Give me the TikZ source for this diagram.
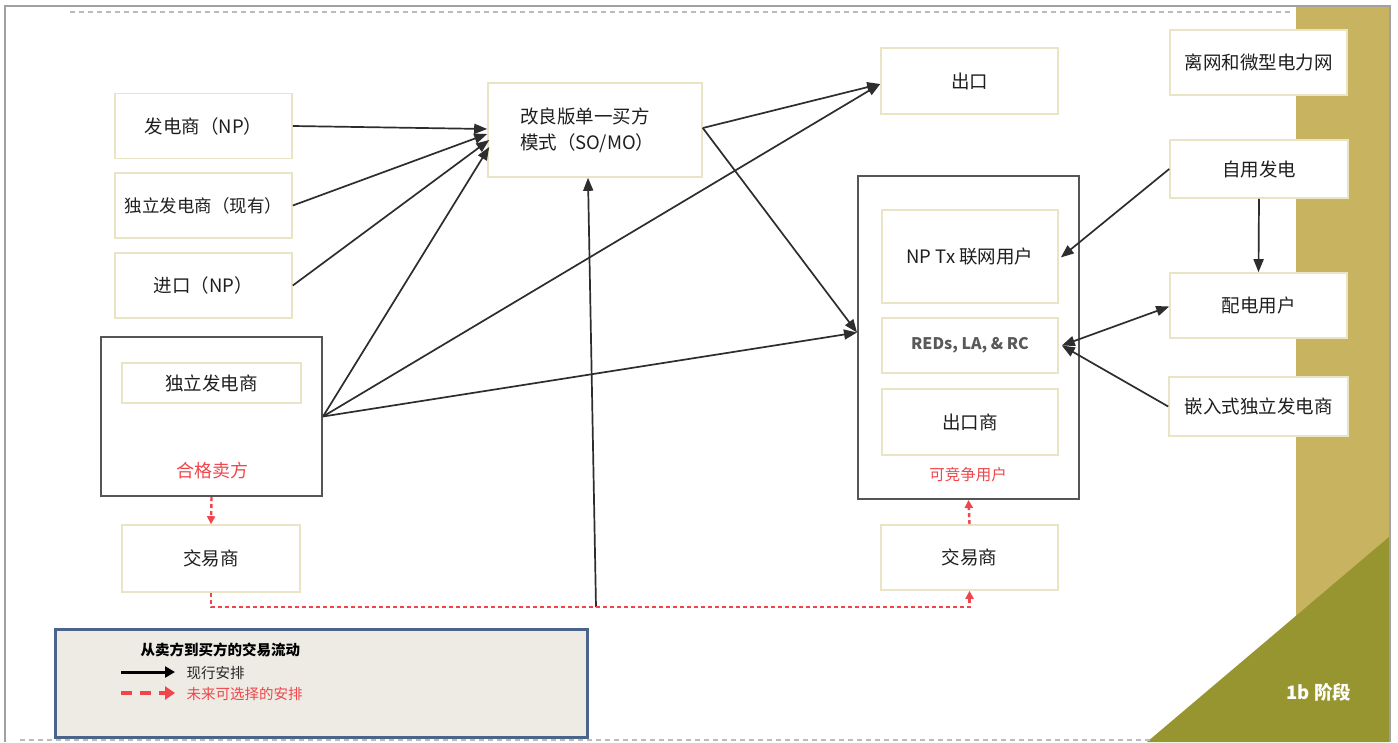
\documentclass[tikz,border=0pt]{standalone}
\usepackage{fontspec}
\setmainfont{Noto Sans CJK SC}
\usetikzlibrary{arrows.meta,calc}
\definecolor{boxline}{RGB}{232,228,196}
\definecolor{darkline}{RGB}{85,85,85}
\definecolor{conn}{RGB}{45,45,45}
\definecolor{redd}{RGB}{240,70,75}
\definecolor{gold}{RGB}{200,179,96}
\definecolor{olive}{RGB}{151,149,48}
\definecolor{legfill}{RGB}{237,235,228}
\definecolor{legline}{RGB}{75,100,140}
\definecolor{frame}{RGB}{160,160,160}
\tikzset{
  box/.style={draw=boxline, line width=1.6pt, fill=white, inner sep=2pt, font=\fontsize{18.5}{22}\selectfont, text=black!88},
  bigbox/.style={draw=darkline, line width=2pt, fill=none},
  arr/.style={draw=conn, line width=1.7pt, -{Triangle[length=13pt,width=10pt]}},
  rarr/.style={draw=redd, line width=2.4pt, dash pattern=on 4pt off 3pt, -{Triangle[length=8pt,width=8pt]}},
  redlbl/.style={text=redd, font=\fontsize{18}{21}\selectfont}
}
\begin{document}
\begin{tikzpicture}[x=1pt,y=-1pt]
\useasboundingbox (0,0) rectangle (1398,742);
\fill[white] (0,0) rectangle (1398,742);
% frame and decorations
\fill[gold] (1296,6) rectangle (1389,742);
\fill[olive] (1147,742) -- (1389,537) -- (1389,742) -- cycle;
\draw[frame, line width=1.4pt] (5,742) -- (5,6) -- (1390,6) -- (1390,742);
\draw[frame!70, line width=1.5pt, dash pattern=on 5pt off 4pt] (70,12) -- (1292,12);
\draw[frame!70, line width=1.5pt, dash pattern=on 5pt off 4pt] (20,740) -- (1150,740);
\node[text=white, font=\fontsize{18.5}{22}\selectfont\bfseries] (stage) at (1319,692) {1b 阶段};

% left column
\node[box, minimum width=177pt, minimum height=65pt] (np) at (203.5,126) {发电商（NP）};
\node[box, minimum width=177pt, minimum height=65pt, font=\fontsize{17.5}{21}\selectfont] (ippx) at (203.5,205.5) {独立发电商（现有）};
\node[box, minimum width=177pt, minimum height=65pt] (imp) at (203.5,285.5) {进口（NP）};
\node[bigbox, minimum width=221pt, minimum height=159pt] (ipp) at (211.5,416.5) {};
\node[box, minimum width=179pt, minimum height=40pt] (ippin) at (211.5,383) {独立发电商};
\node[redlbl] (qual) at (212,471) {合格卖方};
\node[box, minimum width=178pt, minimum height=67pt] (trL) at (211,558.5) {交易商};

% middle
\node[box, minimum width=214pt, minimum height=94pt, text width=150pt, align=left, font=\fontsize{18.5}{26}\selectfont] (somo) at (595,130) {改良版单一买方\\模式（SO/MO）};
\node[box, minimum width=177pt, minimum height=66pt] (exp) at (969.5,81) {出口};

% contestable customers
\node[bigbox, minimum width=221pt, minimum height=323pt] (cont) at (968.5,337.5) {};
\node[box, minimum width=176pt, minimum height=93pt] (nptx) at (970,256.5) {NP Tx 联网用户};
\node[box, minimum width=176pt, minimum height=55pt, font=\fontsize{16}{19}\selectfont\bfseries, text=black!65] (reds) at (970,345.5) {REDs, LA, \& RC};
\node[box, minimum width=176pt, minimum height=66pt] (expr) at (970,422) {出口商};
\node[redlbl, font=\fontsize{15.5}{18}\selectfont] (contl) at (968,475) {可竞争用户};
\node[box, minimum width=177pt, minimum height=65pt] (trR) at (969.5,557.5) {交易商};

% right column
\node[box, minimum width=177pt, minimum height=65pt] (off) at (1258.5,62.5) {离网和微型电力网};
\node[box, minimum width=178pt, minimum height=58pt] (self) at (1259,169) {自用发电};
\node[box, minimum width=177pt, minimum height=65pt] (dist) at (1258.5,305.5) {配电用户};
\node[box, minimum width=179pt, minimum height=59pt] (emb) at (1258.5,406.5) {嵌入式独立发电商};

% black connectors
\draw[arr] (np.east) -- ([yshift=1pt]somo.west);
\draw[arr] (ippx.east) -- ([yshift=-4pt]somo.west);
\draw[arr] (imp.east) -- ([xshift=2pt,yshift=-10pt]somo.west);
\draw[arr] (ipp.east) -- ([xshift=2pt,yshift=-17pt]somo.west);
\draw[arr] (ipp.east) -- ([yshift=-3pt]exp.west);
\draw[arr] (ipp.east) -- ([yshift=5pt]cont.west);
\draw[arr] ([yshift=2pt]somo.east) -- ([yshift=-3pt]exp.west);
\draw[arr] ([yshift=2pt]somo.east) -- ([yshift=5pt]cont.west);
\coordinate (mid) at (596,607);
\draw[arr] (mid) -- ([xshift=-7pt]somo.south);
\draw[arr] (self.west) -- ([xshift=2pt,yshift=-1pt]nptx.east);
\draw[arr] (self.south) -- (dist.north);
\draw[draw=conn, line width=1.7pt, {Triangle[length=13pt,width=10pt]}-{Triangle[length=13pt,width=10pt]}] ([xshift=3pt]reds.east) -- ([yshift=-1pt]dist.west);
\draw[arr] (emb.west) -- ([xshift=3pt]reds.east);

% red dashed connectors
\draw[rarr] (ipp.south) -- (trL.north);
\draw[rarr] (trL.south) -- (trL.south |- mid) -| (trR.south);
\draw[rarr] (trR.north) -- (cont.south);

% legend
\node[draw=legline, line width=3pt, fill=legfill, minimum width=532pt, minimum height=108pt] (leg) at (321,683) {};
\node[anchor=west, font=\fontsize{14.5}{17}\selectfont\bfseries] (lgt) at (137,650) {从卖方到买方的交易流动};
\node[anchor=west, font=\fontsize{14.5}{17}\selectfont, text=black!85] (lg1) at (183,673) {现行安排};
\node[anchor=west, font=\fontsize{14.5}{17}\selectfont, text=redd] (lg2) at (183,694) {未来可选择的安排};
\draw[black, line width=3pt, -{Triangle[length=10pt,width=11pt]}] ([xshift=-62pt,yshift=1pt]lg1.west) -- ([xshift=-8pt,yshift=1pt]lg1.west);
\draw[redd, line width=3.5pt, dash pattern=on 11pt off 8pt, -{Triangle[length=10pt,width=13pt]}] ([xshift=-62pt,yshift=1pt]lg2.west) -- ([xshift=-8pt,yshift=1pt]lg2.west);
\end{tikzpicture}
\end{document}
